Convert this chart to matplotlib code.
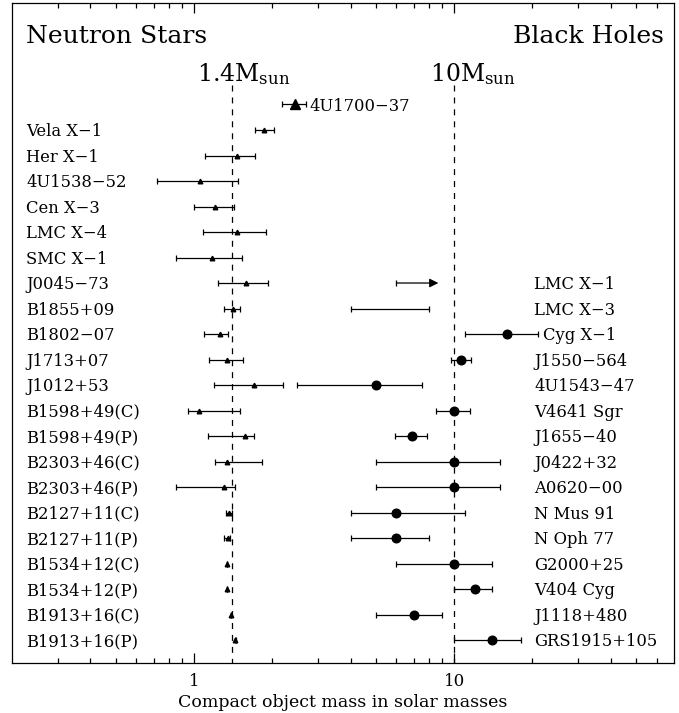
import numpy as np
import matplotlib
matplotlib.use('Agg')
import matplotlib.pyplot as plt
from matplotlib.ticker import FixedLocator, FixedFormatter, NullFormatter

plt.rcParams['font.family'] = ['DejaVu Serif']
plt.rcParams['mathtext.fontset'] = 'dejavuserif'
plt.rcParams['lines.scale_dashes'] = False

# ---------------- data ----------------
ns_names = ['4U1700\u221237', 'Vela X\u22121', 'Her X\u22121', '4U1538\u221252', 'Cen X\u22123',
            'LMC X\u22124', 'SMC X\u22121', 'J0045\u221273', 'B1855+09', 'B1802\u221207',
            'J1713+07', 'J1012+53', 'B1598+49(C)', 'B1598+49(P)', 'B2303+46(C)',
            'B2303+46(P)', 'B2127+11(C)', 'B2127+11(P)', 'B1534+12(C)', 'B1534+12(P)',
            'B1913+16(C)', 'B1913+16(P)']
ns_mass = [2.44, 1.86, 1.47, 1.06, 1.21, 1.47, 1.17, 1.58, 1.41, 1.26, 1.34, 1.70,
           1.05, 1.57, 1.34, 1.30, 1.36, 1.35, 1.34, 1.34, 1.387, 1.445]
ns_lo = [2.18, 1.71, 1.10, 0.72, 1.00, 1.08, 0.85, 1.24, 1.31, 1.09, 1.14, 1.20,
         0.95, 1.13, 1.21, 0.85, 1.33, 1.31, 1.335, 1.335, 1.384, 1.440]
ns_hi = [2.70, 2.03, 1.71, 1.48, 1.43, 1.90, 1.53, 1.92, 1.51, 1.35, 1.55, 2.21,
         1.50, 1.70, 1.82, 1.44, 1.40, 1.38, 1.345, 1.345, 1.390, 1.450]

bh_names = ['LMC X\u22121', 'LMC X\u22123', 'Cyg X\u22121', 'J1550\u2212564', '4U1543\u221247',
            'V4641 Sgr', 'J1655\u221240', 'J0422+32', 'A0620\u221200', 'N Mus 91',
            'N Oph 77', 'G2000+25', 'V404 Cyg', 'J1118+480', 'GRS1915+105']
bh_row_start = 7
bh_mass = [np.nan, np.nan, 16.0, 10.6, 5.0, 10.0, 6.9, 10.0, 10.0, 6.0, 6.0, 10.0, 12.0, 7.0, 14.0]
bh_lo = [6.0, 4.0, 11.0, 9.7, 2.5, 8.5, 5.95, 5.0, 5.0, 4.0, 4.0, 6.0, 10.0, 5.0, 10.0]
bh_hi = [8.7, 8.0, 21.0, 11.6, 7.5, 11.5, 7.9, 15.0, 15.0, 11.0, 8.0, 14.0, 14.0, 9.0, 18.0]
bh_lower_limit = [True] + [False] * 14

ref_masses = [1.4, 10.0]
ref_labels = [r'1.4M$_{\rm sun}$', r'10M$_{\rm sun}$']

xtick_major = [1, 10]
xtick_major_labels = ['1', '10']

# ---------------- figure ----------------
W, H = 679, 713
fig = plt.figure(figsize=(W / 100, H / 100), dpi=100)
ax = fig.add_axes([12 / W, 50 / H, 662 / W, 660 / H])
ax.set_xscale('log')
ax.set_xlim(0.2, 70)
ax.set_ylim(21.9, -3.98)

lw = 0.9
ns_mass = np.array(ns_mass)
ns_lo = np.array(ns_lo)
ns_hi = np.array(ns_hi)
ns_rows = np.arange(len(ns_names))

# big marker for first NS
ax.errorbar(ns_mass[:1], ns_rows[:1],
            xerr=[ns_mass[:1] - ns_lo[:1], ns_hi[:1] - ns_mass[:1]],
            fmt='^', ms=7.5, color='k', elinewidth=lw, capsize=2.5, capthick=lw)
ax.errorbar(ns_mass[1:], ns_rows[1:],
            xerr=[ns_mass[1:] - ns_lo[1:], ns_hi[1:] - ns_mass[1:]],
            fmt='^', ms=3.3, color='k', elinewidth=lw, capsize=2.5, capthick=lw)

bh_mass = np.array(bh_mass)
bh_lo = np.array(bh_lo)
bh_hi = np.array(bh_hi)
bh_rows = np.arange(len(bh_names)) + bh_row_start
for m, lo, hi, r, ll in zip(bh_mass, bh_lo, bh_hi, bh_rows, bh_lower_limit):
    if ll:
        ax.annotate('', xy=(hi, r), xytext=(lo, r),
                    arrowprops=dict(arrowstyle='-|>', color='k', lw=lw,
                                    mutation_scale=13, shrinkA=0, shrinkB=0))
        ax.plot([lo], [r], marker='|', ms=5, mew=lw, color='k')
    elif np.isnan(m):
        ax.plot([lo, hi], [r, r], color='k', lw=lw)
        ax.plot([lo, hi], [r, r], ls='none', marker='|', ms=5, mew=lw, color='k')
    else:
        ax.errorbar([m], [r], xerr=[[m - lo], [hi - m]], fmt='o', ms=6.2, color='k',
                    elinewidth=lw, capsize=2.5, capthick=lw)

# reference dashed lines
ax.vlines(ref_masses, -0.77, 21.9, colors='k', linestyles=[(0, (4.3, 4.3))], lw=lw)
ref_offsets_px = [-35, -24]
for xm, lab, off in zip(ref_masses, ref_labels, ref_offsets_px):
    ax.annotate(lab, xy=(xm, -0.9), xytext=(off * 0.72, 0), textcoords='offset points',
                fontsize=17, ha='left', va='baseline')

# labels
trans = ax.get_yaxis_transform()
lab_fs = 11.8
base_off = 0.24
for i, (name, r) in enumerate(zip(ns_names, ns_rows)):
    if i == 0:
        ax.text(ns_hi[i] * 1.03, r + base_off, name, fontsize=lab_fs, va='baseline', ha='left')
    else:
        ax.text(0.0211, r + base_off, name, fontsize=lab_fs, va='baseline', ha='left',
                transform=trans)

x_col = 0.7885
for name, r, hi in zip(bh_names, bh_rows, bh_hi):
    xa = ax.transAxes.inverted().transform(ax.transData.transform((hi * 1.045, r)))[0]
    ax.text(max(x_col, xa), r + base_off, name, fontsize=lab_fs, va='baseline', ha='left',
            transform=trans)

ax.text(0.0211, -2.42, 'Neutron Stars', fontsize=18, va='baseline', ha='left',
        transform=trans)
ax.text(0.985, -2.42, 'Black Holes', fontsize=18, va='baseline', ha='right',
        transform=trans)

# axes styling
ax.set_yticks([])
ax.xaxis.set_major_locator(FixedLocator(xtick_major))
ax.xaxis.set_major_formatter(FixedFormatter(xtick_major_labels))
minors = [v * d for d in (0.1, 1, 10) for v in range(2, 10)]
minors = [m for m in minors if 0.2 < m < 70]
ax.xaxis.set_minor_locator(FixedLocator(minors))
ax.xaxis.set_minor_formatter(NullFormatter())
ax.tick_params(axis='x', which='both', direction='in', top=True, bottom=True,
               width=0.9, labelsize=12, pad=7)
ax.tick_params(axis='x', which='major', length=7.2)
ax.tick_params(axis='x', which='minor', length=3.6)
for s in ax.spines.values():
    s.set_linewidth(0.9)

ax.set_xlabel('Compact object mass in solar masses', fontsize=12.5, labelpad=3)

fig.savefig('out.png', dpi=100)
